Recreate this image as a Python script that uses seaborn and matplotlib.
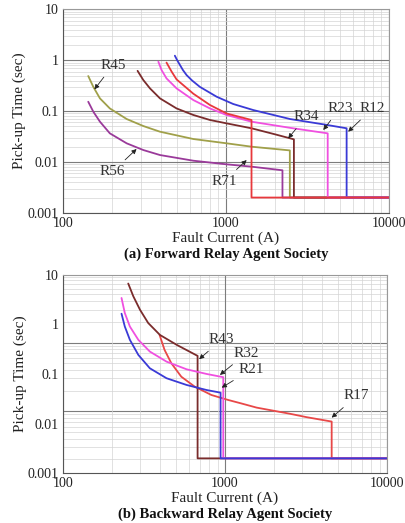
import numpy as np
import pandas as pd
import matplotlib
matplotlib.use("Agg")
import matplotlib.pyplot as plt
import seaborn as sns
from matplotlib.ticker import FixedLocator, NullFormatter, LogLocator

sns.set_theme(style="white")
plt.rcParams['font.family'] = ['Liberation Serif', 'DejaVu Serif']

# ---------------- data: (a) Forward relay agent society ----------------
R12_I = [486, 505, 522, 545, 574, 620, 692, 877, 1109, 1472, 2470, 3960, 5500, 5500, 10000]
R12_t = [1.23, 0.97, 0.81, 0.64, 0.51, 0.40, 0.30, 0.192, 0.138, 0.105, 0.070, 0.055, 0.046, 0.002, 0.002]

R23_I = [385, 403, 432, 498, 631, 798, 1009, 1435, 2470, 3300, 4210, 4210, 10000]
R23_t = [0.936, 0.64, 0.44, 0.28, 0.165, 0.113, 0.084, 0.062, 0.047, 0.041, 0.0366, 0.002, 0.002]

R34_I = [287, 311, 342, 394, 498, 631, 798, 1009, 1435, 2000, 2612, 2612, 10000]
R34_t = [0.62, 0.41, 0.28, 0.178, 0.113, 0.084, 0.067, 0.0575, 0.046, 0.035, 0.0279, 0.002, 0.002]

R45_I = [143, 153.6, 168.7, 194, 246, 311, 394, 631, 1009, 1435, 2466, 2466, 10000]
R45_t = [0.49, 0.30, 0.178, 0.113, 0.070, 0.051, 0.0394, 0.0283, 0.0233, 0.020, 0.0169, 0.002, 0.002]

R56_I = [143, 153.6, 168.7, 194, 246, 311, 394, 631, 1009, 1435, 2222, 2222, 10000]
R56_t = [0.153, 0.0975, 0.062, 0.0366, 0.0233, 0.0172, 0.0137, 0.0106, 0.0090, 0.0081, 0.00687, 0.002, 0.002]

R71_I = [432, 464, 498, 631, 798, 1009, 1435, 1435, 10000]
R71_t = [0.90, 0.60, 0.42, 0.22, 0.132, 0.090, 0.067, 0.002, 0.002]

# ---------------- data: (b) Backward relay agent society ----------------
R17_I = [395, 424, 467, 538, 651, 825, 1045, 1262, 1570, 2520, 3190, 4560, 4560, 10000]
R17_t = [0.61, 0.305, 0.164, 0.088, 0.0555, 0.0377, 0.030, 0.0255, 0.0210, 0.0158, 0.0135, 0.011, 0.002, 0.002]

R43_I = [253, 272, 299, 336, 397, 504, 678, 678, 10000]
R43_t = [6.6, 3.65, 1.96, 1.06, 0.61, 0.385, 0.231, 0.002, 0.002]

R32_I = [230, 241, 259, 292, 344, 436, 580, 770, 977, 977, 10000]
R32_t = [3.38, 1.68, 0.90, 0.486, 0.282, 0.177, 0.124, 0.100, 0.086, 0.002, 0.002]

R21_I = [230, 241, 259, 292, 344, 436, 580, 770, 940, 940, 10000]
R21_t = [1.63, 0.90, 0.486, 0.242, 0.130, 0.082, 0.060, 0.0475, 0.042, 0.002, 0.002]

x_ticks = [100, 1000, 10000]
x_tick_labels = ["100", "1000", "10000"]
y_ticks = [0.001, 0.01, 0.1, 1, 10]
y_tick_labels = ["0.001", "0.01", "0.1", "1", "10"]

forward = [
    ("R45", R45_I, R45_t, "#a0a04a"),
    ("R56", R56_I, R56_t, "#9a3a9a"),
    ("R34", R34_I, R34_t, "#7a2c2c"),
    ("R12", R12_I, R12_t, "#3a3ad6"),
    ("R23", R23_I, R23_t, "#f050e0"),
    ("R71", R71_I, R71_t, "#e8383c"),
]
backward = [
    ("R17", R17_I, R17_t, "#e84848"),
    ("R43", R43_I, R43_t, "#7a2c2c"),
    ("R32", R32_I, R32_t, "#f050e0"),
    ("R21", R21_I, R21_t, "#3a3ad6"),
]

fwd_notes = [  # label, text pos (I,t), arrow tip (I,t)
    ("R45", (203, 0.80), (156, 0.268)),
    ("R56", (202, 0.0065), (283, 0.018)),
    ("R71", (972, 0.0042), (1340, 0.0109)),
    ("R34", (3097, 0.0776), (2410, 0.0292)),
    ("R23", (5000, 0.1135), (3954, 0.0425)),
    ("R12", (7940, 0.1135), (5620, 0.0394)),
]
bwd_notes = [
    ("R43", (955, 0.49), (693, 0.198)),
    ("R32", (1362, 0.262), (931, 0.0955)),
    ("R21", (1462, 0.124), (955, 0.053)),
    ("R17", (6500, 0.036), (4560, 0.0132)),
]

fig = plt.figure(figsize=(4.06, 5.23), dpi=100)
ax1 = fig.add_axes([0.155, 0.593, 0.803, 0.389])
ax2 = fig.add_axes([0.155, 0.095, 0.798, 0.380])

MAJ = dict(color="#7c7c7c", lw=0.8)
MIN = dict(color="#d4d4d4", lw=0.5)


def style(ax, title, ygrid=True):
    ax.set_xscale("log")
    ax.set_yscale("log")
    ax.set_xlim(100, 10000)
    ax.set_ylim(0.001, 10)
    ax.xaxis.set_major_locator(FixedLocator(x_ticks))
    ax.set_xticklabels(x_tick_labels)
    ax.yaxis.set_major_locator(FixedLocator(y_ticks))
    ax.set_yticklabels(y_tick_labels)
    ax.xaxis.set_minor_locator(LogLocator(base=10, subs=np.arange(2, 10)))
    ax.yaxis.set_minor_locator(LogLocator(base=10, subs=np.arange(2, 10)))
    ax.xaxis.set_minor_formatter(NullFormatter())
    ax.yaxis.set_minor_formatter(NullFormatter())
    ax.grid(True, which="major", axis="x", **MAJ)
    ax.grid(True, which="minor", axis="x", **MIN)
    if ygrid:
        ax.grid(True, which="major", axis="y", **MAJ)
        ax.grid(True, which="minor", axis="y", **MIN)
    ax.tick_params(which="both", length=0, labelsize=10, pad=3, colors="#222222")
    for s in ax.spines.values():
        s.set_color("#999999")
        s.set_linewidth(0.8)
    ax.spines["left"].set_color("#555555")
    ax.spines["bottom"].set_color("#555555")
    ax.text(0.5, -0.205, title, transform=ax.transAxes, ha="center", va="center",
            fontsize=10.5, fontweight="bold", color="#111111")


def draw(ax, series, notes):
    for name, I, t, c in series:
        df = pd.DataFrame({"I": I, "t": t})
        sns.lineplot(data=df, x="I", y="t", ax=ax, color=c, lw=1.3,
                     sort=False, estimator=None)
    for lab, txt, tip in notes:
        ax.annotate(lab, xy=tip, xytext=txt, fontsize=11, ha="center", va="center",
                    color="#333333",
                    arrowprops=dict(arrowstyle="-|>", color="#222222", lw=0.6,
                                    mutation_scale=7, shrinkA=2, shrinkB=0))


style(ax1, "(a) Forward Relay Agent Society")
style(ax2, "(b) Backward Relay Agent Society", ygrid=False)

# the lower panel's horizontal grid is drawn on its own (offset) log scale
axg = ax2.twinx()
axg.set_yscale("log")
axg.set_ylim(10 ** -1.902, 10 ** 0.988)
axg.yaxis.set_major_locator(LogLocator(base=10))
axg.yaxis.set_minor_locator(LogLocator(base=10, subs=np.arange(2, 10)))
axg.grid(True, which="major", axis="y", **MAJ)
axg.grid(True, which="minor", axis="y", **MIN)
axg.tick_params(which="both", length=0, labelright=False, right=False)
for s in axg.spines.values():
    s.set_visible(False)
axg.set_zorder(ax2.get_zorder() - 1)
ax2.patch.set_visible(False)

draw(ax1, forward, fwd_notes)
draw(ax2, backward, bwd_notes)
for ax in (ax1, ax2):
    ax.set_xlim(100, 10000)
    ax.set_ylim(0.001, 10)
    ax.set_xlabel("Fault Current (A)", fontsize=11, labelpad=1, color="#222222")
    ax.set_ylabel("Pick-up Time (sec)", fontsize=11, color="#222222")
    ax.yaxis.set_label_coords(-0.112, 0.5)

fig.savefig("out.png", dpi=100)
